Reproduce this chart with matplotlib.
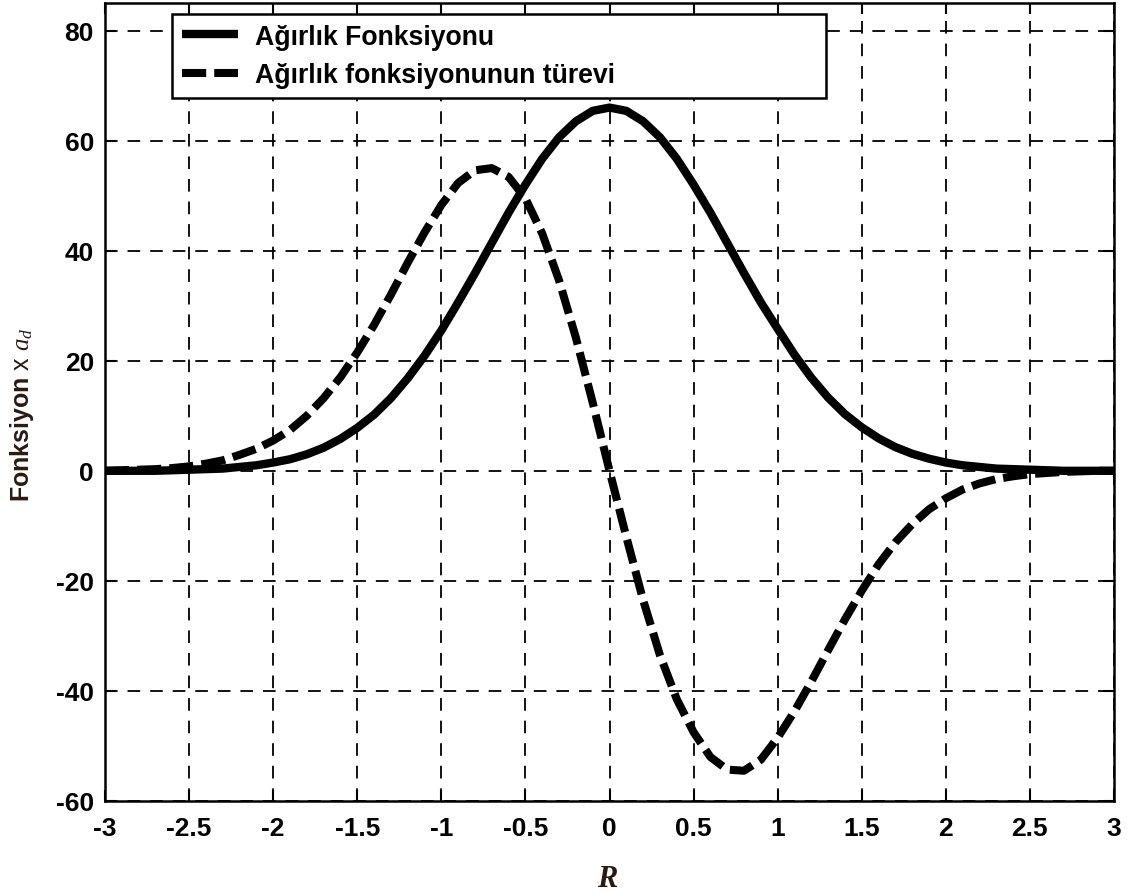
import numpy as np
import matplotlib
matplotlib.use("Agg")
import matplotlib.pyplot as plt

# ---- data ----
r_values = np.round(np.linspace(-3.0, 3.0, 61), 1)

weight_fn = [0.0, 0.0, 0.0, 0.0, 0.1, 0.2, 0.3, 0.4, 0.7, 1.0,
             1.5, 2.1, 3.0, 4.2, 5.8, 7.8, 10.2, 13.2, 16.8, 20.9,
             25.5, 30.6, 35.9, 41.4, 46.9, 52.0, 56.7, 60.6, 63.5, 65.4,
             66.0,
             65.4, 63.5, 60.6, 56.7, 52.0, 46.9, 41.4, 35.9, 30.6, 25.8,
             21.1, 16.9, 13.3, 10.3, 7.9, 5.9, 4.3, 3.1, 2.2, 1.5,
             1.0, 0.7, 0.4, 0.3, 0.2, 0.1, 0.0, 0.0, 0.0, 0.0]

weight_deriv = [0.0, 0.1, 0.2, 0.3, 0.5, 0.8, 1.3, 1.9, 2.9, 4.0,
                5.5, 7.4, 10.0, 13.2, 17.0, 21.5, 26.5, 32.0, 37.8, 43.3,
                48.3, 52.3, 54.6, 55.0, 53.4, 49.5, 43.1, 34.6, 24.2, 12.4,
                0.0,
                -12.0, -23.5, -33.5, -41.5, -47.5, -52.0, -54.3, -54.5, -52.5, -48.5,
                -43.7, -38.3, -32.6, -27.0, -21.8, -17.0, -13.0, -9.7, -7.0, -5.0,
                -3.4, -2.3, -1.5, -1.0, -0.6, -0.4, -0.2, -0.1, 0.0, 0.0]

x_ticks = [-3, -2.5, -2, -1.5, -1, -0.5, 0, 0.5, 1, 1.5, 2, 2.5, 3]
x_ticklabels = ['-3', '-2.5', '-2', '-1.5', '-1', '-0.5', '0', '0.5', '1', '1.5', '2', '2.5', '3']
y_ticks = [-60, -40, -20, 0, 20, 40, 60, 80]
y_ticklabels = ['-60', '-40', '-20', '0', '20', '40', '60', '80']

label_solid = 'Ağırlık Fonksiyonu'
label_dashed = 'Ağırlık fonksiyonunun türevi'

# ---- styling ----
plt.rcParams['font.family'] = ['Liberation Sans', 'DejaVu Sans']
plt.rcParams['mathtext.fontset'] = 'custom'
plt.rcParams['mathtext.it'] = 'Liberation Serif:italic'
plt.rcParams['mathtext.rm'] = 'Liberation Serif'
plt.rcParams['mathtext.bf'] = 'Liberation Sans:bold'

W, H = 1129, 895
fig = plt.figure(figsize=(W / 100, H / 100), dpi=100)
left_px, right_px, top_px, bottom_px = 105, 1114, 4, 802
ax = fig.add_axes([left_px / W, (H - bottom_px) / H,
                   (right_px - left_px) / W, (bottom_px - top_px) / H])

ax.plot(r_values, weight_fn, color='black', lw=6.0, solid_capstyle='butt',
        solid_joinstyle='round', label=label_solid, zorder=3)
ax.plot(r_values, weight_deriv, color='black', lw=5.8, ls=(0, (3.0, 1.0)),
        dash_capstyle='butt', label=label_dashed, zorder=3)

ax.set_xlim(-3, 3)
ax.set_ylim(-60, 85)
ax.set_xticks(x_ticks)
ax.set_xticklabels(x_ticklabels)
ax.set_yticks(y_ticks)
ax.set_yticklabels(y_ticklabels)

ax.grid(True, color='black', lw=1.3, ls=(0, (7, 5.5)))
ax.set_axisbelow(True)
for sp in ax.spines.values():
    sp.set_linewidth(1.8)
    sp.set_color('black')

ax.tick_params(direction='in', length=8, width=1.5, top=True, right=True,
               labelsize=19, pad=8)
ax.tick_params(axis='x', pad=11)
for lab in ax.get_xticklabels() + ax.get_yticklabels():
    lab.set_fontweight('bold')

# legend
ax_w = right_px - left_px
ax_h = bottom_px - top_px
lx0 = (172 - left_px) / ax_w
lx1 = (826 - left_px) / ax_w
ly1 = (bottom_px - 15) / ax_h
ly0 = (bottom_px - 99) / ax_h
leg = ax.legend(loc='upper left', bbox_to_anchor=(lx0, ly0, lx1 - lx0, ly1 - ly0),
                mode='expand', borderaxespad=0,
                prop={'size': 19.2, 'weight': 'bold'}, frameon=True,
                fancybox=False, framealpha=1, edgecolor='black',
                handlelength=2.1, handletextpad=0.65, labelspacing=0.48,
                borderpad=0.36)
leg.get_frame().set_linewidth(1.8)

# axis labels
fig.text(22 / W, 1 - 415 / H, r'$\mathbf{Fonksiyon}$ x $a_d$', rotation=90,
         ha='center', va='center', fontsize=18, color='#2a1a10')
fig.text(607 / W, 1 - 880 / H, 'R', ha='center', va='center', fontsize=22,
         fontweight='bold', fontstyle='italic', family='Liberation Serif',
         color='#2a1a10')

fig.savefig('out.png', dpi=100)
